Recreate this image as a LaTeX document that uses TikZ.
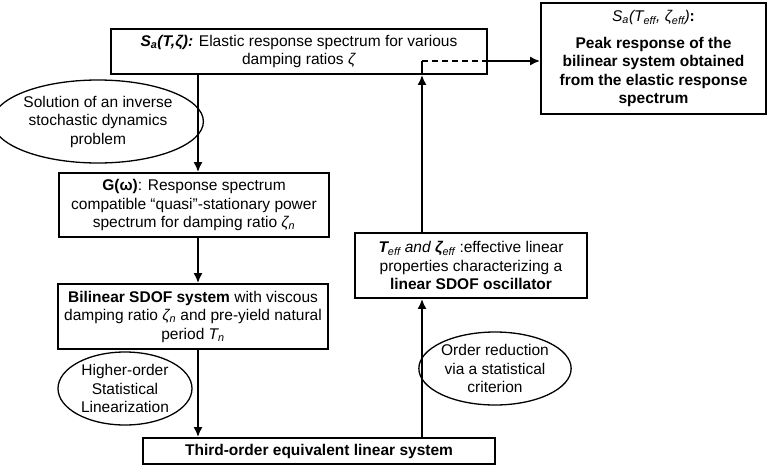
\documentclass[tikz,border=0pt]{standalone}
\usepackage{fontspec}
\setmainfont{Liberation Sans}
\usetikzlibrary{shapes,arrows.meta,positioning,calc}
\newcommand{\boxfont}{\fontsize{15.5}{18.5}\selectfont}

\begin{document}
\begin{tikzpicture}[x=1pt, y=-1pt,
  proc/.style={draw, line width=1.8pt, align=center,
               inner sep=2pt, font=\boxfont},
  oval/.style={draw, ellipse, line width=1.3pt, align=center,
               inner sep=0pt, font=\boxfont},
  arr/.style={-{Latex[length=10pt,width=9pt]}, line width=1.8pt}
]
\useasboundingbox (0,0) rectangle (778,474);

\node[proc, minimum width=376pt, minimum height=45pt] (spec) at (299,51.5)
  {\textbf{\itshape S\textsubscript{a}(T,ζ):} Elastic response spectrum for various\\ damping ratios \textit{ζ}};
\node[proc, minimum width=225pt, minimum height=111pt] (peak) at (653.5,58.5)
  {{\itshape S\textsubscript{a}(T\textsubscript{eff}, ζ\textsubscript{eff})}\textbf{:}\\[8pt]
   \textbf{Peak response of the}\\ \textbf{bilinear system obtained}\\
   \textbf{from the elastic response}\\ \textbf{spectrum}};
\node[proc, minimum width=270pt, minimum height=64pt] (psd) at (194,205)
  {\textbf{G(ω)}: Response spectrum\\ compatible “quasi”-stationary power\\
   spectrum for damping ratio \textit{ζ\textsubscript{n}}};
\node[proc, minimum width=270pt, minimum height=65pt] (sdof) at (193,316.5)
  {\textbf{Bilinear SDOF system} with viscous\\ damping ratio \textit{ζ\textsubscript{n}} and pre-yield natural\\
   period \textit{T\textsubscript{n}}};
\node[proc, minimum width=352pt, minimum height=26pt] (equiv) at (319,451)
  {\textbf{Third-order equivalent linear system}};
\node[proc, minimum width=232pt, minimum height=65pt] (eff) at (471,265.5)
  {{\itshape\textbf{T}\textsubscript{eff} and \textbf{ζ}\textsubscript{eff}} :effective linear\\
   properties characterizing a\\ \textbf{linear SDOF oscillator}};

\node[oval, minimum width=187pt, minimum height=83pt] (inverse) at (98,121.5)
  {Solution of an inverse\\ stochastic dynamics\\ problem};
\node[oval, minimum width=134pt, minimum height=73pt] (hosl) at (125,388.5)
  {Higher-order\\ Statistical\\ Linearization};
\node[oval, minimum width=132pt, minimum height=73pt] (reduce) at (495,368.5)
  {Order reduction\\ via a statistical\\ criterion};

\coordinate (spine) at (198,0);
\coordinate (riser) at (422,0);
\coordinate (dash)  at (422,61);

\draw[arr] (spec.south -| spine) -- (psd.north -| spine);
\draw[arr] (psd.south -| spine)  -- (sdof.north -| spine);
\draw[arr] (sdof.south -| spine) -- (equiv.north -| spine);
\draw[arr] (equiv.north -| riser) -- (eff.south -| riser);
\draw[arr] (eff.north -| riser)  -- (spec.south -| riser);
\draw[line width=1.4pt] (spec.south -| riser) -- (dash);
\draw[line width=1.4pt, dash pattern=on 6pt off 4pt] (dash) -- (dash -| spec.east);
\draw[arr] (dash -| spec.east) -- (dash -| peak.west);
\end{tikzpicture}
\end{document}
